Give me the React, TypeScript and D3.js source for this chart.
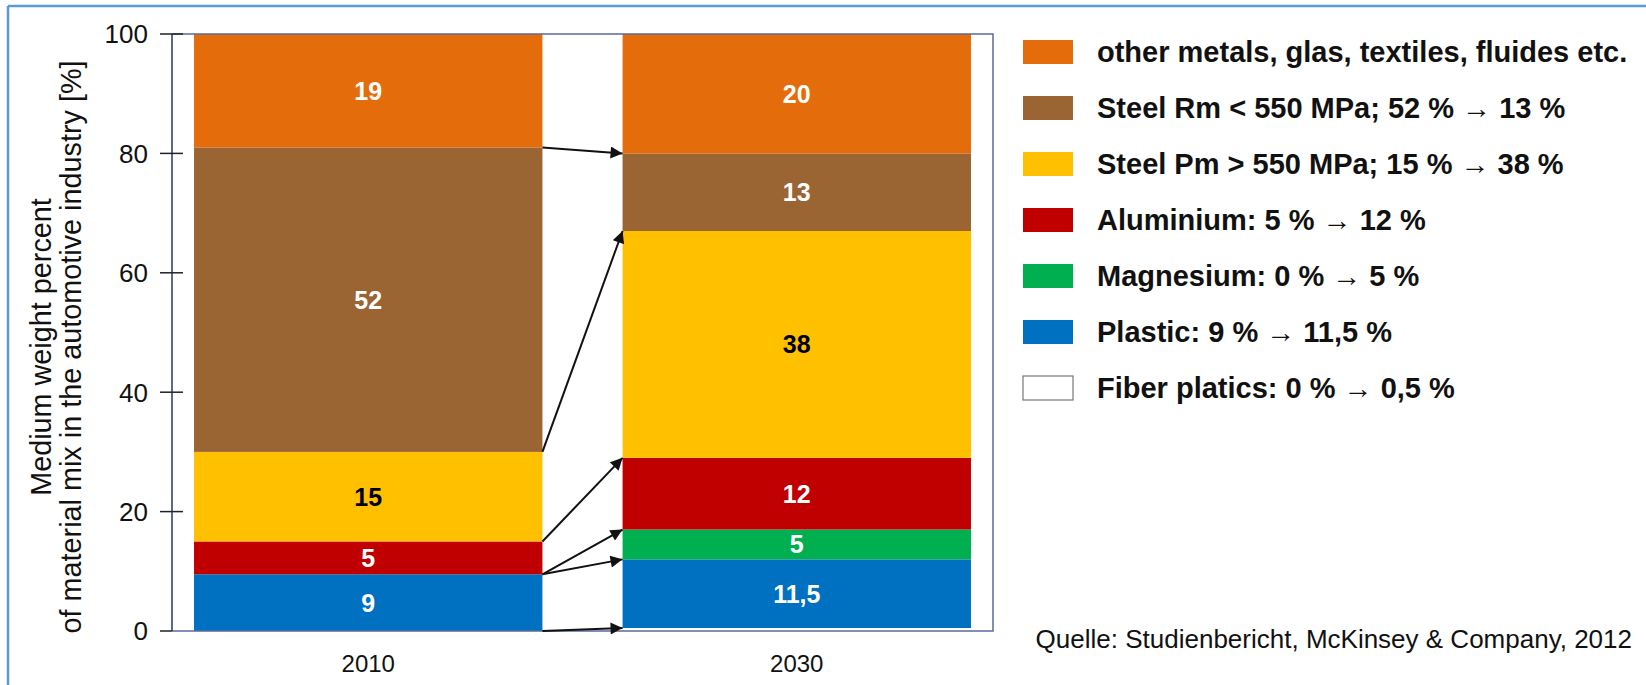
import React from "react";
import * as d3 from "d3";

const categories = ["2010", "2030"];
const seriesKeys = ["fiber", "plastic", "magnesium", "aluminium", "steelPm", "steelRm", "other"];
// segment heights as drawn in the picture
const values2010 = [0, 9.5, 0, 5.5, 15, 51, 19];
const values2030 = [0.5, 11.5, 5, 12, 38, 13, 20];
// printed labels
const labels2010 = ["", "9", "", "5", "15", "52", "19"];
const labels2030 = ["", "11,5", "5", "12", "38", "13", "20"];
const seriesColors = ["#FFFFFF", "#0070C0", "#00B050", "#C00000", "#FFC000", "#9A6533", "#E46C0A"];
const labelColors = ["#000000", "#FFFFFF", "#FFFFFF", "#FFFFFF", "#000000", "#FFFFFF", "#FFFFFF"];
const legendLabels = [
  "other metals, glas, textiles, fluides etc.",
  "Steel Rm < 550 MPa; 52 % \u2192 13 %",
  "Steel Pm > 550 MPa; 15 % \u2192 38 %",
  "Aluminium: 5 % \u2192 12 %",
  "Magnesium: 0 % \u2192 5 %",
  "Plastic: 9 % \u2192 11,5 %",
  "Fiber platics: 0 % \u2192 0,5 %",
];
const legendKeys = ["other", "steelRm", "steelPm", "aluminium", "magnesium", "plastic", "fiber"];
const arrowLinks = [
  ["steelRm", "steelRm"],
  ["steelPm", "steelPm"],
  ["aluminium", "aluminium"],
  ["plastic", "magnesium"],
  ["plastic", "plastic"],
  ["fiber", "fiber"],
];
const yTicks = [0, 20, 40, 60, 80, 100];
const yTitleLines = ["Medium weight percent", "of material mix in the automotive industry [%]"];
const sourceText = "Quelle: Studienbericht, McKinsey & Company, 2012";

const W = 1646;
const H = 685;
const plotLeft = 172;
const plotRight = 993;
const plotTop = 34;
const plotBottom = 631;
const FONT = "'Liberation Sans', Arial, sans-serif";

export default function App() {
  const y = d3.scaleLinear().domain([0, 100]).range([plotBottom, plotTop]);
  const x = d3
    .scaleBand()
    .domain(categories)
    .range([plotLeft, plotRight])
    .paddingInner(0.187)
    .paddingOuter(0.0514);

  const allLabels = [labels2010, labels2030];
  const rows = [values2010, values2030].map((vals, i) => {
    const o: any = { cat: categories[i] };
    seriesKeys.forEach((k, j) => (o[k] = vals[j]));
    return o;
  });
  const stacked = d3.stack().keys(seriesKeys)(rows);
  const topOf = (key: string, catIdx: number) => {
    const s = stacked.find((d) => d.key === key)!;
    return s[catIdx][1];
  };

  const x0 = x("2010")! + x.bandwidth();
  const x1 = x("2030")!;

  return (
    <svg
      width={W}
      height={H}
      style={{ position: "absolute", left: 0, top: 0, background: "#fff" }}
      fontFamily={FONT}
    >
      <defs>
        <marker id="ah" viewBox="0 0 10 10" refX="10" refY="5" markerWidth="6.5" markerHeight="6" orient="auto" markerUnits="strokeWidth">
          <path d="M0,0 L10,5 L0,10 z" fill="#111" />
        </marker>
      </defs>
      <rect x={0} y={0} width={W} height={H} fill="#fff" />
      {/* outer border (top & left) */}
      <line x1={8} y1={6} x2={W} y2={6} stroke="#5B9BD5" strokeWidth={2.5} />
      <line x1={8} y1={6} x2={8} y2={H} stroke="#5B9BD5" strokeWidth={2.5} />

      {/* bars */}
      {stacked.map((s, si) =>
        s.map((d, ci) => {
          const h = y(d[0]) - y(d[1]);
          if (h <= 0) return null;
          return (
            <rect
              key={s.key + ci}
              x={x(categories[ci])}
              y={y(d[1])}
              width={x.bandwidth()}
              height={h}
              fill={seriesColors[si]}
            />
          );
        })
      )}
      {/* bar labels */}
      {stacked.map((s, si) =>
        s.map((d, ci) => {
          const lab = allLabels[ci][si];
          if (!lab) return null;
          return (
            <text
              key={"l" + s.key + ci}
              x={x(categories[ci])! + x.bandwidth() / 2}
              y={y((d[0] + d[1]) / 2)}
              dy="0.36em"
              textAnchor="middle"
              fontSize={25}
              fontWeight="bold"
              fill={labelColors[si]}
            >
              {lab}
            </text>
          );
        })
      )}

      {/* plot frame */}
      <path
        d={`M${plotLeft},${plotTop} H${plotRight} V${plotBottom} H${plotLeft}`}
        fill="none"
        stroke="#5A6A9A"
        strokeWidth={1.5}
      />
      {/* y axis */}
      <line x1={plotLeft} y1={plotTop} x2={plotLeft} y2={plotBottom} stroke="#27346A" strokeWidth={1.5} />
      {yTicks.map((t) => (
        <g key={t}>
          <line x1={plotLeft - 12} x2={plotLeft + (t === 0 ? 0 : 11)} y1={y(t)} y2={y(t)} stroke="#222" strokeWidth={1.5} />
          <text x={plotLeft - 24} y={y(t)} dy="0.36em" textAnchor="end" fontSize={26} fill="#111">
            {t}
          </text>
        </g>
      ))}
      {/* x labels */}
      {categories.map((c) => (
        <text key={c} x={x(c)! + x.bandwidth() / 2} y={672} textAnchor="middle" fontSize={24} fill="#111">
          {c}
        </text>
      ))}
      {/* y title */}
      {yTitleLines.map((l, i) => (
        <text
          key={i}
          transform={`translate(${41 + i * 30},347) rotate(-90)`}
          textAnchor="middle"
          dy="0.36em"
          fontSize={28.8}
          fill="#111"
        >
          {l}
        </text>
      ))}

      {/* arrows */}
      {arrowLinks.map(([a, b], i) => (
        <line
          key={i}
          x1={x0}
          y1={y(topOf(a, 0))}
          x2={x1}
          y2={y(topOf(b, 1))}
          stroke="#111"
          strokeWidth={2}
          markerEnd="url(#ah)"
        />
      ))}

      {/* legend */}
      {legendLabels.map((l, i) => {
        const cy = 52 + i * 56;
        const si = seriesKeys.indexOf(legendKeys[i]);
        return (
          <g key={l}>
            <rect
              x={1023}
              y={cy - 12}
              width={50}
              height={24}
              fill={seriesColors[si]}
              stroke={legendKeys[i] === "fiber" ? "#777" : "none"}
              strokeWidth={1.2}
            />
            <text x={1097} y={cy} dy="0.36em" fontSize={29} fontWeight="bold" fill="#111">
              {l}
            </text>
          </g>
        );
      })}

      {/* source */}
      <text x={1632} y={648} textAnchor="end" fontSize={26} fill="#111">
        {sourceText}
      </text>
    </svg>
  );
}
